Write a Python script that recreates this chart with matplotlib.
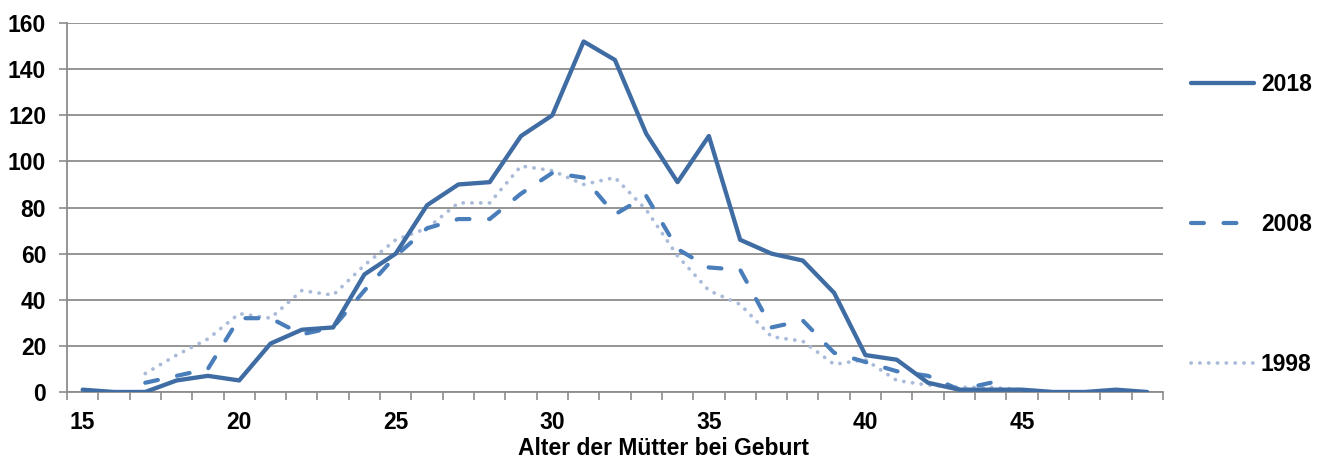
import matplotlib
matplotlib.use("Agg")
import matplotlib.pyplot as plt

plt.rcParams["font.family"] = ["Liberation Sans", "DejaVu Sans"]
plt.rcParams["font.weight"] = "bold"

ages_2018 = list(range(15, 50))
births_2018 = [1, 0, 0, 5, 7, 5, 21, 27, 28, 51, 60, 81, 90, 91, 111, 120, 152, 144,
               112, 91, 111, 66, 60, 57, 43, 16, 14, 4, 1, 1, 1, 0, 0, 1, 0]
ages_2008 = list(range(17, 45))
births_2008 = [4, 7, 10, 32, 32, 25, 28, 44, 59, 71, 75, 75, 86, 95, 93, 77, 85, 62,
               54, 53, 28, 31, 17, 13, 9, 7, 1, 4]
ages_1998 = list(range(17, 50))
births_1998 = [8, 16, 23, 34, 32, 44, 42, 55, 66, 71, 82, 82, 98, 96, 90, 93, 79, 59,
               44, 38, 24, 22, 12, 14, 5, 3, 2, 2, 1, 0, 0, 0, 0]
x_labels = [15, 20, 25, 30, 35, 40, 45]
y_ticks = [0, 20, 40, 60, 80, 100, 120, 140, 160]

FS = 16.5

fig = plt.figure(figsize=(13.29, 4.61), dpi=100)
ax = fig.add_axes([0.0504, 0.1497, 0.8246, 0.8003])

ax.plot(ages_2018, births_2018, color="#3f6ca3", lw=3.1, solid_joinstyle="round",
        solid_capstyle="round", label="2018", zorder=3)
l08, = ax.plot(ages_2008, births_2008, color="#4a7ebb", lw=3.0, dash_capstyle="round",
               label="2008", zorder=2)
l08.set_dashes((3.1, 4.7))
l98, = ax.plot(ages_1998, births_1998, color="#aabbd9", lw=2.7, dash_capstyle="round",
               label="1998", zorder=1)
l98.set_dashes((0.05, 2.3))

ax.set_xlim(14.5, 49.5)
ax.set_ylim(0, 160)
ax.set_yticks(y_ticks)
ax.set_xticks(x_labels)
ax.set_xticks([a + 0.5 for a in range(14, 50)], minor=True)
ax.tick_params(axis="x", which="major", length=0, labelsize=FS, pad=14)
ax.tick_params(axis="x", which="minor", length=6, width=1.2, color="#8c8c8c", direction="out")
ax.tick_params(axis="y", length=6, width=1.2, color="#8c8c8c", labelsize=FS, pad=9)
ax.grid(axis="y", color="#8c8c8c", lw=1.3)
ax.set_axisbelow(True)
for side in ("top", "right"):
    ax.spines[side].set_visible(False)
for side in ("left", "bottom"):
    ax.spines[side].set_color("#8c8c8c")
    ax.spines[side].set_linewidth(1.3)

ax.set_xlabel("Alter der Mütter bei Geburt", fontsize=FS, fontweight="bold",
              x=0.544, labelpad=2)

fig.legend(loc="upper left", bbox_to_anchor=(1191 / 1329, 1 - 73 / 461), frameon=False,
           fontsize=FS, handlelength=2.75, handletextpad=0.3, labelspacing=5.1,
           borderpad=0, borderaxespad=0)

fig.savefig("out.png", dpi=100)
plt.close(fig)
